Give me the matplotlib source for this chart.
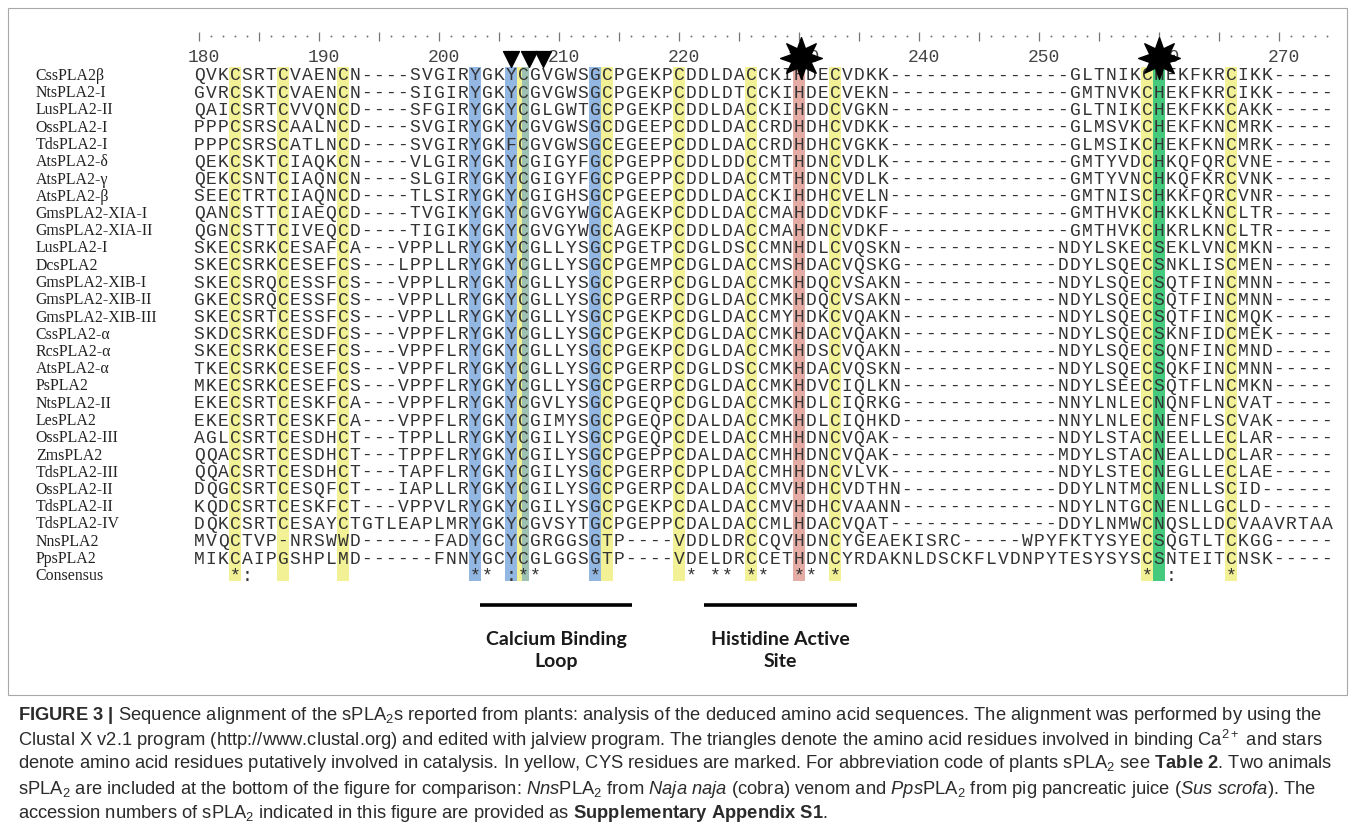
import matplotlib
matplotlib.use("Agg")
import matplotlib.pyplot as plt
from matplotlib.patches import Rectangle

# ==========================
# Alignment data
# ==========================
names = ["CssPLA2β", "NtsPLA2-I", "LusPLA2-II", "OssPLA2-I", "TdsPLA2-I",
         "AtsPLA2-δ", "AtsPLA2-γ", "AtsPLA2-β", "GmsPLA2-XIA-I", "GmsPLA2-XIA-II",
         "LusPLA2-I", "DcsPLA2", "GmsPLA2-XIB-I", "GmsPLA2-XIB-II", "GmsPLA2-XIB-III",
         "CssPLA2-α", "RcsPLA2-α", "AtsPLA2-α", "PsPLA2", "NtsPLA2-II",
         "LesPLA2", "OssPLA2-III", "ZmsPLA2", "TdsPLA2-III", "OssPLA2-II",
         "TdsPLA2-II", "TdsPLA2-IV", "NnsPLA2", "PpsPLA2"]

seqs = [
    "QVKCSRTCVAENCN" + "-" * 4 + "SVGIRYGKYCGVGWSGCPGEKPCDDLDACCKIHDECVDKK" + "-" * 15 + "GLTNIKCHEKFKRCIKK" + "-" * 5,
    "GVRCSKTCVAENCN" + "-" * 4 + "SIGIRYGKYCGVGWSGCPGEKPCDDLDTCCKIHDECVEKN" + "-" * 15 + "GMTNVKCHEKFKRCIKK" + "-" * 5,
    "QAICSRTCVVQNCD" + "-" * 4 + "SFGIRYGKYCGLGWTGCPGEKPCDDLDACCKIHDDCVGKN" + "-" * 15 + "GLTNIKCHEKFKKCAKK" + "-" * 5,
    "PPPCSRSCAALNCD" + "-" * 4 + "SVGIRYGKYCGVGWSGCDGEEPCDDLDACCRDHDHCVDKK" + "-" * 15 + "GLMSVKCHEKFKNCMRK" + "-" * 5,
    "PPPCSRSCATLNCD" + "-" * 4 + "SVGIRYGKFCGVGWSGCEGEEPCDDLDACCRDHDHCVGKK" + "-" * 15 + "GLMSIKCHEKFKNCMRK" + "-" * 5,
    "QEKCSKTCIAQKCN" + "-" * 4 + "VLGIRYGKYCGIGYFGCPGEPPCDDLDDCCMTHDNCVDLK" + "-" * 15 + "GMTYVDCHKQFQRCVNE" + "-" * 5,
    "QEKCSNTCIAQNCN" + "-" * 4 + "SLGIRYGKYCGIGYFGCPGEPPCDDLDACCMTHDNCVDLK" + "-" * 15 + "GMTYVNCHKQFKRCVNK" + "-" * 5,
    "SEECTRTCIAQNCD" + "-" * 4 + "TLSIRYGKYCGIGHSGCPGEEPCDDLDACCKIHDHCVELN" + "-" * 15 + "GMTNISCHKKFQRCVNR" + "-" * 5,
    "QANCSTTCIAEQCD" + "-" * 4 + "TVGIKYGKYCGVGYWGCAGEKPCDDLDACCMAHDDCVDKF" + "-" * 15 + "GMTHVKCHKKLKNCLTR" + "-" * 5,
    "QGNCSTTCIVEQCD" + "-" * 4 + "TIGIKYGKYCGVGYWGCAGEKPCDDLDACCMAHDNCVDKF" + "-" * 15 + "GMTHVKCHKRLKNCLTR" + "-" * 5,
    "SKECSRKCESAFCA" + "-" * 3 + "VPPLLRYGKYCGLLYSGCPGETPCDGLDSCCMNHDLCVQSKN" + "-" * 13 + "NDYLSKECSEKLVNCMKN" + "-" * 5,
    "SKECSRKCESEFCS" + "-" * 3 + "LPPLLRYGKYCGLLYSGCPGEMPCDGLDACCMSHDACVQSKG" + "-" * 13 + "DDYLSQECSNKLISCMEN" + "-" * 5,
    "SKECSRQCESSFCS" + "-" * 3 + "VPPLLRYGKYCGLLYSGCPGERPCDGLDACCMKHDQCVSAKN" + "-" * 13 + "NDYLSQECSQTFINCMNN" + "-" * 5,
    "GKECSRQCESSFCS" + "-" * 3 + "VPPLLRYGKYCGLLYSGCPGERPCDGLDACCMKHDQCVSAKN" + "-" * 13 + "NDYLSQECSQTFINCMNN" + "-" * 5,
    "SKECSRTCESSFCS" + "-" * 3 + "VPPLLRYGKYCGLLYSGCPGEKPCDGLDACCMYHDKCVQAKN" + "-" * 13 + "NDYLSQECSQTFINCMQK" + "-" * 5,
    "SKDCSRKCESDFCS" + "-" * 3 + "VPPFLRYGKYCGLLYSGCPGEKPCDGLDACCMKHDACVQAKN" + "-" * 13 + "NDYLSQECSKNFIDCMEK" + "-" * 5,
    "SKECSRKCESEFCS" + "-" * 3 + "VPPFLRYGKYCGLLYSGCPGEKPCDGLDACCMKHDSCVQAKN" + "-" * 13 + "NDYLSQECSQNFINCMND" + "-" * 5,
    "TKECSRKCESEFCS" + "-" * 3 + "VPPFLRYGKYCGLLYSGCPGERPCDGLDSCCMKHDACVQSKN" + "-" * 13 + "NDYLSQECSQKFINCMNN" + "-" * 5,
    "MKECSRKCESEFCS" + "-" * 3 + "VPPFLRYGKYCGLLYSGCPGERPCDGLDACCMKHDVCIQLKN" + "-" * 13 + "NDYLSEECSQTFLNCMKN" + "-" * 5,
    "EKECSRTCESKFCA" + "-" * 3 + "VPPFLRYGKYCGVLYSGCPGEQPCDGLDACCMKHDLCIQRKG" + "-" * 13 + "NNYLNLECNQNFLNCVAT" + "-" * 5,
    "EKECSRTCESKFCA" + "-" * 3 + "VPPFLRYGKYCGIMYSGCPGEQPCDALDACCMKHDLCIQHKD" + "-" * 13 + "NNYLNLECNENFLSCVAK" + "-" * 5,
    "AGLCSRTCESDHCT" + "-" * 3 + "TPPLLRYGKYCGILYSGCPGEQPCDELDACCMHHDNCVQAK" + "-" * 14 + "NDYLSTACNEELLECLAR" + "-" * 5,
    "QQACSRTCESDHCT" + "-" * 3 + "TPPFLRYGKYCGILYSGCPGEPPCDALDACCMHHDNCVQAK" + "-" * 14 + "MDYLSTACNEALLDCLAR" + "-" * 5,
    "QQACSRTCESDHCT" + "-" * 3 + "TAPFLRYGKYCGILYSGCPGERPCDPLDACCMHHDNCVLVK" + "-" * 14 + "NDYLSTECNEGLLECLAE" + "-" * 5,
    "DQGCSRTCESQFCT" + "-" * 3 + "IAPLLRYGKYCGILYSGCPGERPCDALDACCMVHDHCVDTHN" + "-" * 13 + "DDYLNTMCNENLLSCID" + "-" * 6,
    "KQDCSRTCESKFCT" + "-" * 3 + "VPPVLRYGKYCGILYSGCPGEKPCDALDACCMVHDHCVAANN" + "-" * 13 + "NDYLNTGCNENLLGCLD" + "-" * 6,
    "DQKCSRTCESAYCT" + "GTLEAPLMRYGKYCGVSYTGCPGEPPCDALDACCMLHDACVQAT" + "-" * 14 + "DDYLNMWCNQSLLDCVAAVRTAA",
    "MVQCTVP-NRSWWD" + "-" * 6 + "FADYGCYCGRGGSGTP" + "-" * 4 + "VDDLDRCCQVHDNCYGEAEKISRC" + "-" * 5 + "WPYFKTYSYECSQGTLTCKGG" + "-" * 5,
    "MIKCAIPGSHPLMD" + "-" * 6 + "FNNYGCYCGLGGSGTP" + "-" * 4 + "VDELDRCCETHDNCYRDAKNLDSCKFLVDNPYTESYSYSCSNTEITCNSK" + "-" * 5,
]

# consensus symbols (0-based column -> symbol)
cons_cols = [3, 4, 23, 24, 26, 27, 28, 33, 41, 43, 44, 46, 47, 50, 51, 53, 79, 81, 86]
cons_syms = ["*", ":", "*", "*", ":", "*", "*", "*", "*", "*", "*", "*", "*", "*", "*", "*", "*", ":", "*"]

# highlighted columns (0-based)
yellow_cols = [3, 7, 12, 27, 34, 40, 46, 53, 79, 86]
blue_cols = [23, 26, 33]
teal_cols = [27]
red_cols = [50]
green_cols = [80]

ruler_start = 180
ruler_labels = list(range(180, 271, 10))

ca_marks = [26.5, 28.0, 29.2]      # triangles (Ca2+ binding)
cat_marks = [50.7, 80.5]           # stars (catalysis)
regions = [("Calcium Binding\nLoop", 23.9, 36.6), ("Histidine Active\nSite", 42.6, 55.3)]

caption = [
    r"$\mathbf{FIGURE\ 3\ |}$ Sequence alignment of the sPLA$_2$s reported from plants: analysis of the deduced amino acid sequences. The alignment was performed by using the",
    r"Clustal X v2.1 program (http://www.clustal.org) and edited with jalview program. The triangles denote the amino acid residues involved in binding Ca$^{2+}$ and stars",
    r"denote amino acid residues putatively involved in catalysis. In yellow, CYS residues are marked. For abbreviation code of plants sPLA$_2$ see $\mathbf{Table\ 2}$. Two animals",
    r"sPLA$_2$ are included at the bottom of the figure for comparison: $\mathit{Nns}$PLA$_2$ from $\mathit{Naja\ naja}$ (cobra) venom and $\mathit{Pps}$PLA$_2$ from pig pancreatic juice ($\mathit{Sus\ scrofa}$). The",
    r"accession numbers of sPLA$_2$ indicated in this figure are provided as $\mathbf{Supplementary\ Appendix\ S1}$.",
]

n_cols = len(seqs[0])
for s in seqs:
    assert len(s) == n_cols, (len(s), s)
n_seq = len(seqs)

# ==========================
# Figure
# ==========================
plt.rcParams["mathtext.fontset"] = "custom"
plt.rcParams["mathtext.rm"] = "Liberation Sans"
plt.rcParams["mathtext.it"] = "Liberation Sans:italic"
plt.rcParams["mathtext.bf"] = "Liberation Sans:bold"
plt.rcParams["mathtext.default"] = "regular"

W, H = 1355, 833
fig = plt.figure(figsize=(W / 100, H / 100), dpi=100)

row_top, row_h = 76, 17.25
x_left, col_w = 193, 12
ax = fig.add_axes([x_left / W, (H - 700) / H, n_cols * col_w / W, 680 / H])
ax.set_xlim(0, n_cols)
ax.set_ylim((700 - row_top) / row_h, (20 - row_top) / row_h)
ax.axis("off")

# column shading
top, bot = -0.55, n_seq + 0.25


def shade(cols, color, width=1.0, shift=0.0):
    ax.bar([c + 0.5 + shift for c in cols], bot - top, bottom=top, width=width,
           color=color, linewidth=0, zorder=0)


shade(yellow_cols, "#f3f195")
shade(blue_cols, "#93b7e3")
shade(teal_cols, "#9dc2b4", width=0.6, shift=0.2)
shade(red_cols, "#e5aca5")
shade(green_cols, "#45c97d")

# residues
seq_font = dict(family="Liberation Mono", fontsize=13, color="#333333")
for r, s in enumerate(seqs):
    for k, ch in enumerate(s):
        ax.text(k + 0.5, r, ch, ha="center", va="center", zorder=2, **seq_font)

for k, sym in zip(cons_cols, cons_syms):
    ax.text(k + 0.5, n_seq, sym, ha="center", va="center", zorder=2, **seq_font)

# sequence names
for r, name in enumerate(names + ["Consensus"]):
    ax.text(-13.1, r, name, ha="left", va="center", family="Liberation Serif",
            fontsize=11.4, color="#222222", clip_on=False)

# ruler
dot_x = [k + 0.5 for k in range(n_cols) if (ruler_start + k) % 5 != 0]
ax.scatter(dot_x, [-2.3] * len(dot_x), s=2, color="#777777", linewidths=0)
tick_x = [k + 0.5 for k in range(n_cols) if (ruler_start + k) % 5 == 0]
ax.vlines(tick_x, -2.55, -2.05, color="#777777", linewidth=0.9)
for n in ruler_labels:
    ax.text(n - ruler_start + 0.9, -1.1, str(n), ha="center", va="center",
            family="Liberation Mono", fontsize=13, color="#444444")

# Ca2+ triangles and catalytic stars
ax.scatter(ca_marks, [-1.0] * len(ca_marks), marker="v", s=130, color="black", zorder=5)
ax.scatter(cat_marks, [-1.05] * len(cat_marks), marker=(8, 1, 0), s=900, color="black", zorder=5)

# region bars
for label, x0, x1 in regions:
    ax.hlines(30.67, x0, x1, color="black", linewidth=2.6)
    ax.text((x0 + x1) / 2, 33.3, label, ha="center", va="center", family="Lato",
            fontweight="bold", fontsize=14, color="#1a1a1a", linespacing=1.35)

# frame
fig.patches.append(Rectangle((8 / W, 1 - 695 / H), (1347 - 8) / W, (695 - 8) / H,
                             transform=fig.transFigure, fill=False,
                             edgecolor="#a8a8a8", linewidth=0.8))

# caption
cap_y = [716, 740, 764, 789, 813]
texts = [fig.text(18 / W, 1 - y / H, line, family="Liberation Sans", fontsize=12,
                  color="#2b2b2b", ha="left", va="center")
         for line, y in zip(caption, cap_y)]
fig.canvas.draw()
rend = fig.canvas.get_renderer()
widths = [t.get_window_extent(rend).width for t in texts[:4]]
scale = 1307 / (sum(widths) / len(widths))
for t in texts:
    t.set_fontsize(12 * scale)

plt.savefig("out.png", dpi=100)
plt.close()
